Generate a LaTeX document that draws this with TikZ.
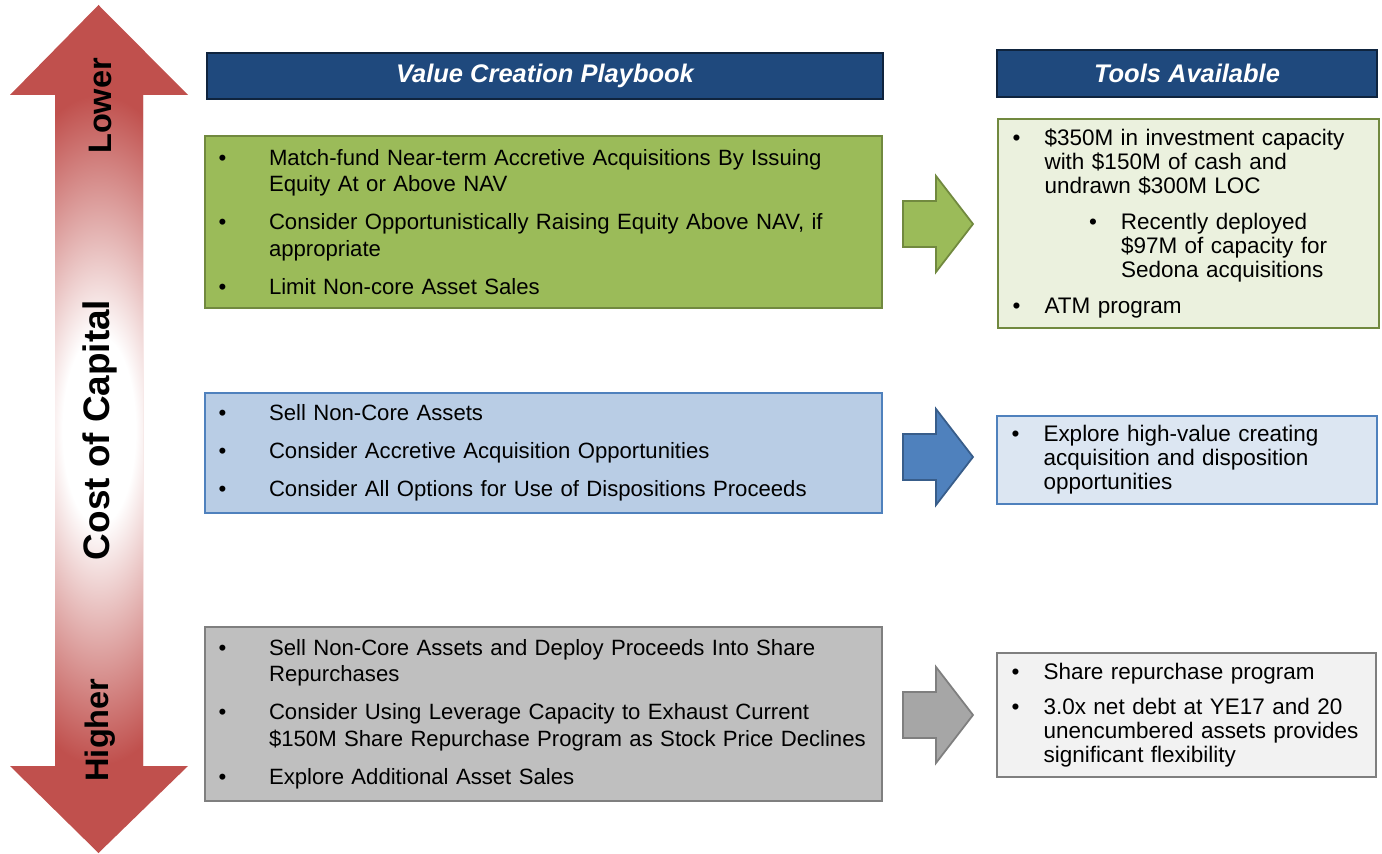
\documentclass[tikz,border=0pt]{standalone}
\usepackage{fontspec}
\setmainfont{Liberation Sans}
\usepackage{xcolor}
\usetikzlibrary{positioning}

\definecolor{hdblue}{HTML}{1F497D}
\definecolor{capred}{HTML}{C0504D}
\definecolor{pgreen}{HTML}{9BBB59}
\definecolor{pgreenD}{HTML}{71893F}
\definecolor{tgreen}{HTML}{EBF1DE}
\definecolor{pblue}{HTML}{B9CDE5}
\definecolor{pblueD}{HTML}{4F81BD}
\definecolor{tblue}{HTML}{DCE6F2}
\definecolor{pgray}{HTML}{BFBFBF}
\definecolor{pgrayD}{HTML}{7F7F7F}
\definecolor{tgray}{HTML}{F2F2F2}
\definecolor{agray}{HTML}{A6A6A6}
\definecolor{ablueD}{HTML}{385D8A}

\pgfdeclareradialshading{capglow}{\pgfpoint{0bp}{0bp}}{color(0bp)=(white); color(7bp)=(white); color(25bp)=(capred); color(50bp)=(capred)}

\newcommand{\pbul}[1]{\hangindent=1.01cm\hangafter=1\makebox[1.01cm][l]{\textbullet}#1\par}
\newcommand{\tbul}[2][0cm]{\hangindent=\dimexpr#1+0.64cm\relax\hangafter=1\hspace*{#1}\makebox[0.64cm][l]{\textbullet}#2\par}

\tikzset{
  box/.style={draw, line width=1pt, inner sep=0pt},
  hdbox/.style={box, draw=hdblue!50!black, fill=hdblue, text=white, font=\fontsize{14.5pt}{16pt}\selectfont\bfseries\itshape},
  ptext/.style={anchor=west, inner sep=0pt, text width=13.5cm, align=left, font=\fontsize{12.6pt}{15.1pt}\selectfont, execute at begin node={\setlength{\parskip}{0.232cm}}},
  ttext/.style={anchor=west, inner sep=0pt, text width=7.3cm, align=left, font=\fontsize{12.8pt}{13.65pt}\selectfont, execute at begin node={\setlength{\parskip}{0.232cm}}},
  capword/.style={rotate=90, inner sep=0pt, font=\fontsize{18.5pt}{20pt}\selectfont\bfseries}
}

\begin{document}
\begin{tikzpicture}[x=0.02cm, y=-0.02cm]
  \useasboundingbox (0,0) rectangle (1382,854);
  % cost of capital arrow
  \fill[capred] (98.5,5) -- (188,95) -- (143,95) -- (143,766) -- (188,766) -- (98.5,853) -- (10,766) -- (55,766) -- (55,95) -- (10,95) -- cycle;
  \begin{scope}
    \clip (55,95) rectangle (143,766);
    \shade[shading=capglow] (-31,95) rectangle (229,765);
  \end{scope}
  \node[capword] (lower) at (100,106) {Lower};
  \node[capword, font=\fontsize{21pt}{24pt}\selectfont\bfseries] (cost) at (100,430) {Cost of Capital};
  \node[capword] (higher) at (100,730) {Higher};
  % headers
  \node[hdbox, minimum width=13.52cm, minimum height=0.92cm] (hdplay) at (545,76) {Value Creation Playbook};
  \node[hdbox, minimum width=7.6cm, minimum height=0.94cm] (hdtools) at (1187,73.5) {Tools Available};
  % playbook boxes
  \node[box, draw=pgreenD, fill=pgreen, minimum width=13.54cm, minimum height=3.44cm] (play1) at (543.5,222) {};
  \node[box, draw=pblueD, fill=pblue, minimum width=13.54cm, minimum height=2.4cm] (play2) at (543.5,453) {};
  \node[box, draw=pgrayD, fill=pgray, minimum width=13.54cm, minimum height=3.48cm] (play3) at (543.5,714) {};
  \node[ptext, right=0.28cm of play1.west] (play1txt) {%
    \pbul{Match-fund Near-term Accretive Acquisitions By Issuing\newline Equity At or Above NAV}
    \pbul{Consider Opportunistically Raising Equity Above NAV, if\newline appropriate}
    \pbul{Limit Non-core Asset Sales}};
  \node[ptext, right=0.28cm of play2.west] (play2txt) {%
    \pbul{Sell Non-Core Assets}
    \pbul{Consider Accretive Acquisition Opportunities}
    \pbul{Consider All Options for Use of Dispositions Proceeds}};
  \node[ptext, right=0.28cm of play3.west] (play3txt) {%
    \pbul{Sell Non-Core Assets and Deploy Proceeds Into Share\newline Repurchases}
    \pbul{Consider Using Leverage Capacity to Exhaust Current\newline \$150M Share Repurchase Program as Stock Price Declines}
    \pbul{Explore Additional Asset Sales}};
  % tools boxes
  \node[box, draw=pgreenD, fill=tgreen, minimum width=7.62cm, minimum height=4.18cm] (tools1) at (1188.5,223.5) {};
  \node[box, draw=pblueD, fill=tblue, minimum width=7.6cm, minimum height=1.76cm] (tools2) at (1187,460) {};
  \node[box, draw=pgrayD, fill=tgray, minimum width=7.58cm, minimum height=2.48cm] (tools3) at (1186.5,715) {};
  \node[ttext, right=0.30cm of tools1.west] (tools1txt) {%
    \tbul{\$350M in investment capacity\newline with \$150M of cash and\newline undrawn \$300M LOC}
    \tbul[1.53cm]{Recently deployed\newline \$97M of capacity for\newline Sedona acquisitions}
    \tbul{ATM program}};
  \node[ttext, right=0.30cm of tools2.west] (tools2txt) {%
    \tbul{Explore high-value creating\newline acquisition and disposition\newline opportunities}};
  \node[ttext, right=0.30cm of tools3.west] (tools3txt) {%
    \tbul{Share repurchase program}
    \tbul{3.0x net debt at YE17 and 20\newline unencumbered assets provides\newline significant flexibility}};
  % block arrows
  \foreach \y/\fc/\dc in {224/pgreen/pgreenD, 457/pblueD/ablueD, 715/agray/pgrayD}
    \filldraw[fill=\fc, draw=\dc, line width=1pt] (903,\y-23) -- (936,\y-23) -- (936,\y-48) -- (973,\y) -- (936,\y+48) -- (936,\y+23) -- (903,\y+23) -- cycle;
\end{tikzpicture}
\end{document}
